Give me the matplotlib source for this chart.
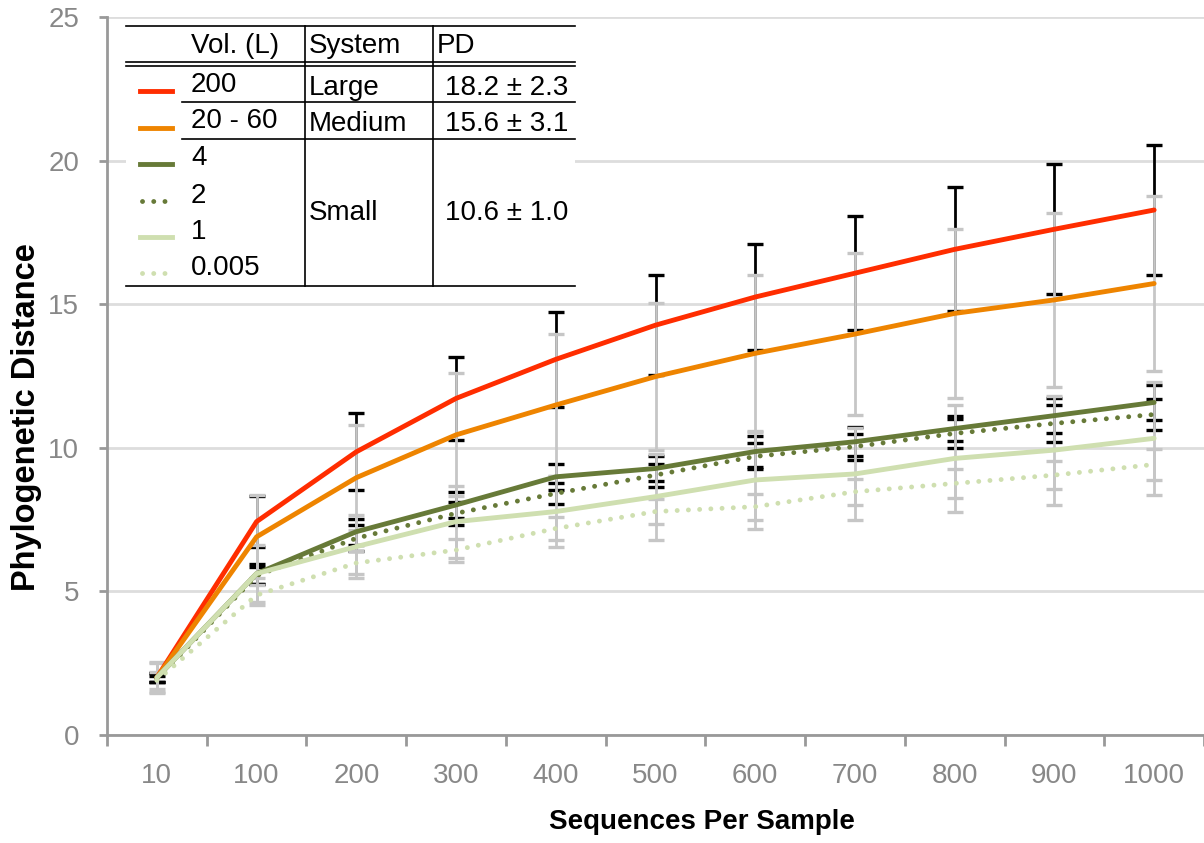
import matplotlib
matplotlib.use("Agg")
import matplotlib.pyplot as plt
import numpy as np

plt.rcParams['font.family'] = ['Liberation Sans', 'DejaVu Sans']

# sequences per sample (categories)
cats = ['10', '100', '200', '300', '400', '500', '600', '700', '800', '900', '1000']

vol_labels = ['200', '20 - 60', '4', '2', '1', '0.005']

pd_200 = [2.0, 7.43, 9.86, 11.72, 13.08, 14.27, 15.25, 16.08, 16.91, 17.61, 18.28]
err_200 = [0.15, 0.9, 1.34, 1.45, 1.66, 1.75, 1.85, 1.99, 2.16, 2.26, 2.28]

pd_20_60 = [2.0, 6.9, 8.96, 10.45, 11.49, 12.48, 13.29, 13.96, 14.68, 15.15, 15.72]
err_20_60 = [0.5, 1.45, 1.83, 2.14, 2.47, 2.57, 2.73, 2.83, 2.93, 3.04, 3.05]

pd_4 = [2.0, 5.62, 7.08, 8.01, 8.99, 9.28, 9.87, 10.21, 10.67, 11.12, 11.58]
err_4 = [0.15, 0.35, 0.45, 0.45, 0.45, 0.45, 0.55, 0.5, 0.45, 0.6, 0.6]

pd_2 = [1.95, 5.55, 6.85, 7.72, 8.41, 9.05, 9.7, 10.04, 10.5, 10.85, 11.16]
err_2 = [0.1, 0.3, 0.45, 0.4, 0.35, 0.4, 0.45, 0.45, 0.5, 0.64, 0.54]

pd_1 = [2.0, 5.62, 6.56, 7.43, 7.78, 8.3, 8.88, 9.09, 9.63, 9.92, 10.33]
err_1 = [0.55, 1.0, 1.1, 1.25, 1.25, 1.5, 1.7, 1.6, 1.86, 1.9, 1.97]

pd_0005 = [1.9, 4.87, 5.99, 6.44, 7.19, 7.78, 7.95, 8.47, 8.76, 9.05, 9.42]
err_0005 = [0.3, 0.35, 0.4, 0.4, 0.4, 0.45, 0.45, 0.45, 0.5, 0.5, 0.55]

# table text
systems = ['Large', 'Medium', 'Small']
pd_text = ['18.2 \u00b1 2.3', '15.6 \u00b1 3.1', '10.6 \u00b1 1.0']

series = [pd_200, pd_20_60, pd_4, pd_2, pd_1, pd_0005]
errs = [err_200, err_20_60, err_4, err_2, err_1, err_0005]
colors = ['#ff2d00', '#ee8400', '#677a38', '#677a38', '#cfdfb0', '#cfdfb0']
dotted = [False, False, False, True, False, True]
err_col = ['black', '#c6c6c6', 'black', 'black', '#c6c6c6', '#c6c6c6']

fig = plt.figure(figsize=(12.04, 8.43), dpi=100)
ax = fig.add_axes([107/1204, 108/843, 1 - 107/1204, (735-17)/843])

x = np.arange(len(cats))

# black bars first, grey after (grey covers black stems like in the original)
order = [0, 2, 3, 1, 4, 5]
for i in order:
    ax.errorbar(x, series[i], yerr=errs[i], fmt='none', ecolor=err_col[i],
                elinewidth=2, capsize=6, capthick=2.4, zorder=2)

for i in range(len(series)):
    if dotted[i]:
        ax.plot(x, series[i], color=colors[i], lw=3.5, linestyle=(0, (0.01, 2.3)),
                dash_capstyle='round', zorder=3)
    else:
        ax.plot(x, series[i], color=colors[i], lw=3.5, solid_capstyle='round', zorder=3)

ax.set_xlim(-0.5, len(cats) - 0.5)
ax.set_ylim(0, 25)
ax.set_yticks([0, 5, 10, 15, 20, 25])
ax.yaxis.grid(True, color='#dddddd', lw=2)
ax.set_axisbelow(True)
ax.set_xticks(x)
ax.set_xticklabels(cats)
ax.set_xticks(np.arange(-0.5, len(cats)), minor=True)
ax.tick_params(axis='x', which='major', length=0, pad=20, labelsize=20, labelcolor='#888888')
ax.tick_params(axis='x', which='minor', length=8, width=2, color='#999999')
ax.tick_params(axis='y', length=6, width=2, color='#999999', pad=14, labelsize=20,
               labelcolor='#888888')
for s in ['top', 'right']:
    ax.spines[s].set_visible(False)
for s in ['left', 'bottom']:
    ax.spines[s].set_color('#999999')
    ax.spines[s].set_linewidth(2)

fig.text(702/1204, 1 - 822/843, 'Sequences Per Sample', ha='center', va='center',
         fontsize=20, fontweight='bold')
fig.text(27/1204, 1 - 417/843, 'Phylogenetic Distance', ha='center', va='center',
         rotation=90, fontsize=23.5, fontweight='bold')

# table legend, drawn in pixel coordinates on an overlay
ov = fig.add_axes([0, 0, 1, 1], zorder=5)
ov.set_xlim(0, 1204)
ov.set_ylim(843, 0)
ov.axis('off')
ov.add_patch(plt.Rectangle((126, 22), 449, 268, facecolor='white', edgecolor='none'))

L, R, c1, c2 = 126, 575, 305, 433
for yy in [26, 62, 66, 286]:
    ov.plot([L, R], [yy, yy], color='black', lw=1.2)
for yy in [102, 139]:
    ov.plot([182, R], [yy, yy], color='black', lw=1.2)
for xx in [c1, c2]:
    ov.plot([xx, xx], [26, 286], color='black', lw=1.2)

fs = 20
ov.text(191, 46, 'Vol. (L)', fontsize=fs, va='center')
ov.text(309, 46, 'System', fontsize=fs, va='center')
ov.text(437, 46, 'PD', fontsize=fs, va='center')

row_y = [85, 121, 158, 196, 232, 268]
line_y = [91, 128, 164, 201, 237, 273]
for i in range(len(vol_labels)):
    ov.text(191, row_y[i], vol_labels[i], fontsize=fs, va='center')
    if dotted[i]:
        ov.plot([142, 170], [line_y[i], line_y[i]], color=colors[i], lw=3.5,
                linestyle=(0, (0.01, 2.3)), dash_capstyle='round')
    else:
        ov.plot([140, 172], [line_y[i], line_y[i]], color=colors[i], lw=3.5)

sys_y = [88, 124, 213]
for i in range(len(systems)):
    ov.text(309, sys_y[i], systems[i], fontsize=fs, va='center')
    ov.text(445, sys_y[i], pd_text[i], fontsize=fs, va='center')

fig.savefig('out.png', dpi=100)
